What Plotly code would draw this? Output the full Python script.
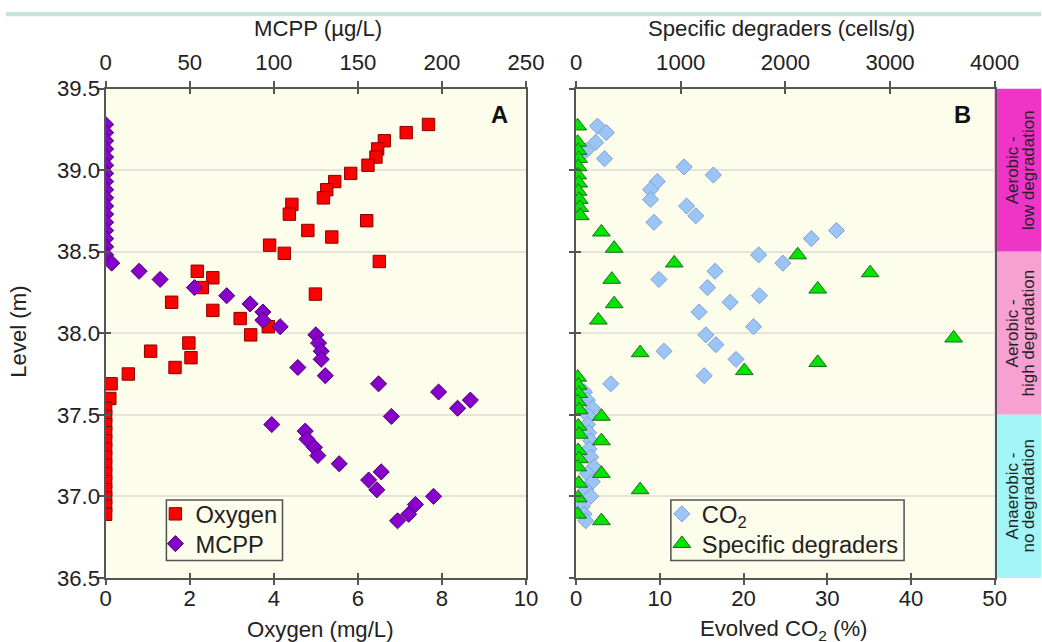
import plotly.graph_objects as go

# The capture shows the page at about 0.97 of its CSS size, and the page body keeps its
# default 8 px margin.  All positions below are given in picture pixels and converted.
S = 0.97
OFF = 8
FW = int(round(1042 / S - OFF))
FH = int(round(642 / S - OFF))

# ---------------- data ----------------
oxygen_level = [39.28, 39.23, 39.18, 39.13, 39.08, 39.03, 38.98, 38.93, 38.88, 38.83,
                38.79, 38.73, 38.69, 38.63, 38.59, 38.54, 38.49, 38.44, 38.38, 38.34,
                38.28, 38.24, 38.19, 38.14, 38.09, 38.04, 37.99, 37.94, 37.89, 37.85,
                37.79, 37.75, 37.69, 37.60, 37.54, 37.49, 37.44, 37.39, 37.34, 37.29,
                37.24, 37.19, 37.14, 37.09, 37.04, 36.99, 36.94, 36.89]
oxygen = [7.68, 7.15, 6.63, 6.47, 6.43, 6.24, 5.83, 5.45, 5.26, 5.18,
          4.43, 4.37, 6.21, 4.81, 5.38, 3.90, 4.25, 6.51, 2.18, 2.55,
          2.30, 4.99, 1.57, 2.55, 3.20, 3.87, 3.45, 1.98, 1.07, 2.03,
          1.65, 0.54, 0.13, 0.10, 0, 0, 0, 0, 0, 0,
          0, 0, 0, 0, 0, 0, 0, 0]

mcpp_level = [39.28, 39.23, 39.18, 39.13, 39.08, 39.03, 38.98, 38.93, 38.88, 38.83,
              38.78, 38.73, 38.68, 38.63, 38.58, 38.53, 38.48, 38.43, 38.38, 38.33,
              38.28, 38.23, 38.18, 38.13, 38.08, 38.04, 37.99, 37.94, 37.89, 37.84,
              37.79, 37.74, 37.69, 37.64, 37.59, 37.54, 37.49, 37.44, 37.40, 37.35,
              37.30, 37.25, 37.20, 37.15, 37.10, 37.04, 37.00, 36.95, 36.89, 36.85]
mcpp = [0, 0, 0, 0, 0, 0, 0, 0, 0, 0,
        0, 0, 0, 0, 0, 0, 0, 3.6, 19.9, 32.4,
        52.8, 72.0, 85.9, 93.5, 93.5, 103.8, 125.0, 126.6, 128.2, 128.2,
        114.3, 130.6, 162.3, 198.0, 216.9, 209.3, 169.9, 98.8, 118.7, 119.7,
        124.2, 126.2, 138.9, 163.9, 156.4, 161.3, 195.0, 184.2, 180.2, 173.6]

co2_level = [39.27, 39.23, 39.17, 39.12, 39.07, 39.02, 38.97, 38.93, 38.88, 38.82,
             38.78, 38.72, 38.68, 38.63, 38.58, 38.48, 38.43, 38.38, 38.33, 38.28,
             38.23, 38.19, 38.13, 38.04, 37.99, 37.93, 37.89, 37.84, 37.74, 37.69,
             37.64, 37.59, 37.54, 37.49, 37.44, 37.39, 37.34, 37.29, 37.24, 37.18,
             37.14, 37.09, 37.04, 37.00, 36.94, 36.89, 36.85]
co2 = [2.55, 3.6, 2.35, 1.2, 3.4, 12.9, 16.4, 9.7, 8.9, 8.9,
       13.2, 14.3, 9.3, 31.1, 28.1, 21.8, 24.7, 16.6, 9.9, 15.7,
       21.9, 18.4, 14.7, 21.2, 15.5, 16.7, 10.5, 19.1, 15.3, 4.15,
       1.0, 1.35, 1.95, 1.55, 1.35, 1.5, 1.75, 1.55, 1.75, 2.15,
       1.35, 1.95, 1.15, 1.75, 0.75, 0.95, 1.15]

degr_level = [39.27, 39.17, 39.12, 39.07, 39.02, 38.97, 38.92, 38.87, 38.82, 38.77,
              38.72, 38.62, 38.52, 38.48, 38.43, 38.37, 38.33, 38.27, 38.18, 38.08,
              37.97, 37.88, 37.82, 37.77, 37.73, 37.68, 37.63, 37.58, 37.53, 37.49,
              37.43, 37.38, 37.34, 37.28, 37.23, 37.18, 37.14, 37.08, 37.04, 36.99,
              36.89, 36.85]
degraders = [15, 15, 20, 25, 20, 15, 25, 20, 30, 35,
             40, 242, 364, 2118, 938, 2810, 341, 2309, 364, 213,
             3608, 612, 2309, 1608, 15, 20, 25, 15, 30, 242,
             20, 30, 242, 20, 30, 15, 242, 25, 612, 20,
             15, 242]

zones = [(38.5, 39.5, "Aerobic -", "low degradation", "#ee35c8"),
         (37.5, 38.5, "Aerobic -", "high degradation", "#f7a0d2"),
         (36.5, 37.5, "Anaerobic -", "no degradation", "#a3f5f7")]

# ---------------- helpers: picture pixels -> paper fractions / css sizes ----------------
def px(x):
    return (x / S - OFF) / FW

def py(y):
    return 1 - (y / S - OFF) / FH

def sz(v):
    return v / S

FONT = "Liberation Sans, Arial, sans-serif"
TXT = "#222222"
AX = "#555555"
BG = "#fdfdeb"
GRID = "#e4e4d8"

L0, L1 = 107.3, 527.3
R0, R1 = 577.3, 995.5
T, B = 85.0, 578.5

fig = go.Figure()

fig.add_trace(go.Scatter(x=oxygen, y=oxygen_level, mode="markers", name="Oxygen",
                         xaxis="x", yaxis="y", legend="legend",
                         marker=dict(symbol="square", size=sz(12), color="#ff0000",
                                     line=dict(color="#8a0000", width=1))))
fig.add_trace(go.Scatter(x=mcpp, y=mcpp_level, mode="markers", name="MCPP",
                         xaxis="x2", yaxis="y", legend="legend2",
                         marker=dict(symbol="diamond", size=sz(12), color="#8800cc",
                                     line=dict(color="#4a006e", width=1))))
fig.add_trace(go.Scatter(x=co2, y=co2_level, mode="markers", name="CO<sub>2</sub>",
                         xaxis="x3", yaxis="y2", legend="legend3",
                         marker=dict(symbol="diamond", size=sz(12), color="#9cc5f7",
                                     line=dict(color="#7f9fd3", width=1))))
fig.add_trace(go.Scatter(x=degraders, y=degr_level, mode="markers", name="Specific degraders",
                         xaxis="x4", yaxis="y2", legend="legend4",
                         marker=dict(symbol="triangle-up", size=sz(15), color="#00e400",
                                     line=dict(color="#1f6a1f", width=1))))

# invisible copies that register the overlay axes carrying the inner half of the ticks
for xs, ys, xa, ya in [(oxygen, oxygen_level, "x5", "y3"), (mcpp, mcpp_level, "x6", "y3"),
                       (co2, co2_level, "x7", "y4"), (degraders, degr_level, "x8", "y4")]:
    fig.add_trace(go.Scatter(x=xs, y=ys, xaxis=xa, yaxis=ya, mode="markers",
                             marker=dict(opacity=0, size=1), showlegend=False,
                             hoverinfo="skip"))

tickfont = dict(family=FONT, size=sz(21.5), color=TXT)
base_x = dict(showline=True, linecolor=AX, linewidth=sz(2), ticks="outside", ticklen=sz(5),
              tickwidth=sz(1.5), tickcolor=AX, showgrid=False, zeroline=False,
              tickfont=tickfont, fixedrange=True)
inner = dict(showline=False, ticks="inside", ticklen=sz(5), tickwidth=sz(1.5), tickcolor=AX,
             showticklabels=False, showgrid=False, zeroline=False, fixedrange=True)
ydom = [py(B), py(T)]
xdomL = [px(L0), px(L1)]
xdomR = [px(R0), px(R1)]

def leg(xl, yc):
    return dict(x=px(xl), y=py(yc), xanchor="left", yanchor="middle",
                bgcolor="rgba(0,0,0,0)", borderwidth=0,
                font=dict(family=FONT, size=sz(23), color=TXT),
                itemclick=False, itemdoubleclick=False)

fig.update_layout(
    width=FW, height=FH,
    margin=dict(l=0, r=0, t=0, b=0, pad=0),
    paper_bgcolor="white", plot_bgcolor=BG,
    font=dict(family=FONT, color=TXT),
    xaxis=dict(domain=xdomL, range=[0, 10], dtick=2, side="bottom",
               anchor="y", ticklabelstandoff=-6, **base_x),
    xaxis2=dict(domain=xdomL, range=[0, 250], dtick=50, side="top",
                anchor="y", overlaying="x", ticklabelstandoff=3, **base_x),
    xaxis3=dict(domain=xdomR, range=[0, 50], dtick=10, side="bottom",
                anchor="y2", ticklabelstandoff=-6, **base_x),
    xaxis4=dict(domain=xdomR, range=[0, 4000], dtick=1000, side="top",
                anchor="y2", overlaying="x3", ticklabelstandoff=3, **base_x),
    xaxis5=dict(domain=xdomL, range=[0, 10], dtick=2, side="bottom", anchor="y3",
                overlaying="x", **inner),
    xaxis6=dict(domain=xdomL, range=[0, 250], dtick=50, side="top", anchor="y3",
                overlaying="x", **inner),
    xaxis7=dict(domain=xdomR, range=[0, 50], dtick=10, side="bottom", anchor="y4",
                overlaying="x3", **inner),
    xaxis8=dict(domain=xdomR, range=[0, 4000], dtick=1000, side="top", anchor="y4",
                overlaying="x3", **inner),
    yaxis=dict(domain=ydom, range=[36.5, 39.5], dtick=0.5, tickformat=".1f",
               anchor="x", showline=True, mirror=True, linecolor=AX, linewidth=sz(2),
               ticks="outside", ticklen=sz(5), tickwidth=sz(1.5), tickcolor=AX,
               showgrid=True, gridcolor=GRID, gridwidth=sz(1.5), zeroline=False,
               tickfont=tickfont, ticklabelstandoff=-6, fixedrange=True),
    yaxis2=dict(domain=ydom, range=[36.5, 39.5], dtick=0.5, anchor="x3",
                showline=True, mirror=True, linecolor=AX, linewidth=sz(2),
                ticks="outside", ticklen=sz(5), tickwidth=sz(1.5), tickcolor=AX,
                showticklabels=False,
                showgrid=True, gridcolor=GRID, gridwidth=sz(1.5), zeroline=False,
                fixedrange=True),
    yaxis3=dict(domain=ydom, range=[36.5, 39.5], dtick=0.5, anchor="x5", side="left",
                overlaying="y", **inner),
    yaxis4=dict(domain=ydom, range=[36.5, 39.5], dtick=0.5, anchor="x7", side="left",
                overlaying="y2", **inner),
    legend=leg(157, 514),
    legend2=leg(157, 544),
    legend3=leg(663, 514),
    legend4=leg(663, 544),
    showlegend=True,
)

shapes = [
    dict(type="rect", xref="paper", yref="paper", x0=0, x1=1, y0=py(12), y1=1,
         fillcolor="#c6e4da", line=dict(width=0), layer="below"),
    # legend frames
    dict(type="rect", xref="paper", yref="paper", x0=px(168), x1=px(284),
         y0=py(561), y1=py(500), fillcolor=BG, line=dict(color=AX, width=sz(1.5)),
         layer="above"),
    dict(type="rect", xref="paper", yref="paper", x0=px(672), x1=px(905),
         y0=py(561), y1=py(500), fillcolor=BG, line=dict(color=AX, width=sz(1.5)),
         layer="above"),
]
annotations = []
for lo, hi, t1, t2, col in zones:
    shapes.append(dict(type="rect", xref="paper", yref="y2", x0=px(R1), x1=1,
                       y0=lo, y1=hi, fillcolor=col, line=dict(width=0), layer="below"))
    mid = (lo + hi) / 2
    annotations.append(dict(x=px(1013), y=mid, xref="paper", yref="y2", text=t1,
                            textangle=-90, showarrow=False, xanchor="center", yanchor="middle",
                            font=dict(family=FONT, size=sz(16.5), color=TXT)))
    annotations.append(dict(x=px(1029), y=mid, xref="paper", yref="y2", text=t2,
                            textangle=-90, showarrow=False, xanchor="center", yanchor="middle",
                            font=dict(family=FONT, size=sz(16.5), color=TXT)))

title_font = dict(family=FONT, size=sz(21.5), color=TXT)
for x, y, t, ang in [(319, 24, "MCPP (µg/L)", 0), (322, 631, "Oxygen (mg/L)", 0),
                     (783, 24, "Specific degraders (cells/g)", 0),
                     (785, 631, "Evolved CO<sub>2</sub> (%)", 0),
                     (20, 330, "Level (m)", -90)]:
    annotations.append(dict(x=px(x), y=py(y), xref="paper", yref="paper", text=t,
                            textangle=ang, showarrow=False, xanchor="center",
                            yanchor="middle", font=title_font))
for x, y, t in [(501, 112, "A"), (963, 112, "B")]:
    annotations.append(dict(x=px(x), y=py(y), xref="paper", yref="paper", text=f"<b>{t}</b>",
                            showarrow=False, xanchor="center", yanchor="middle",
                            font=dict(family=FONT, size=sz(23), color="#111111")))

fig.update_layout(shapes=shapes, annotations=annotations)
fig.write_html("out.html")
